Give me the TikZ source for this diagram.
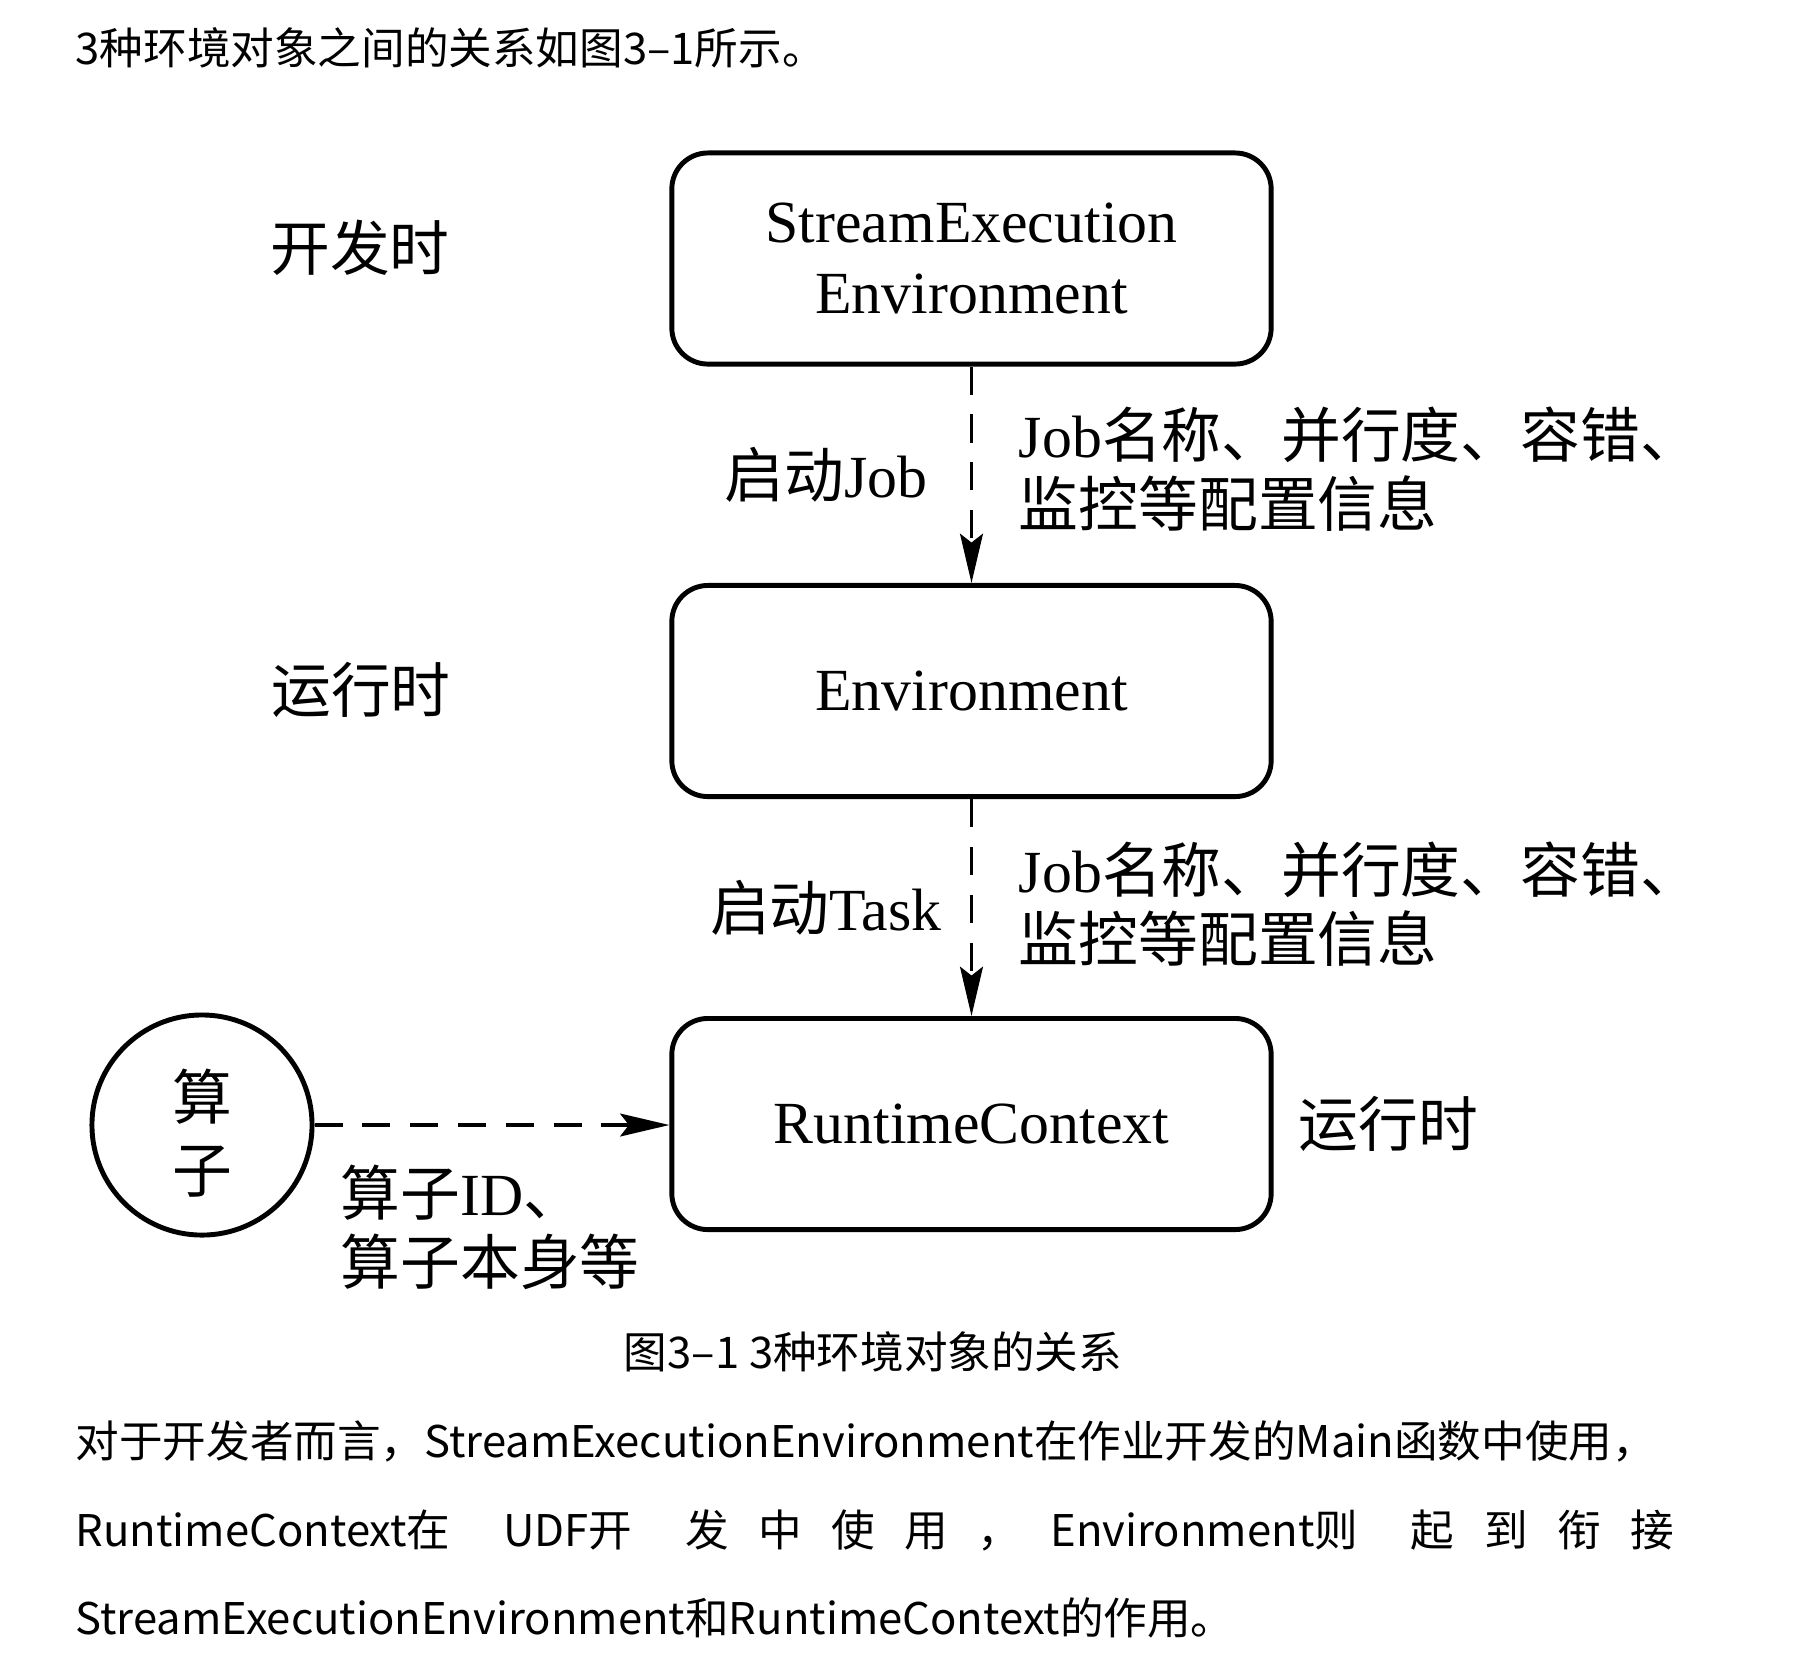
\documentclass[tikz,border=0pt]{standalone}
\usepackage{fontspec}
\setmainfont{Liberation Serif}
\newfontfamily\cjk{Noto Sans CJK SC}
\usetikzlibrary{positioning, arrows.meta, calc}

\begin{document}
\begin{tikzpicture}[x=0.01cm, y=-0.01cm,
    envbox/.style={draw, line width=1.4pt, rounded corners=0.36cm, minimum width=5.99cm, minimum height=2.11cm, align=center, font=\fontsize{17}{20.3}\selectfont},
    opcircle/.style={draw, circle, line width=1.4pt, minimum size=2.2cm, align=center, font=\fontsize{17}{20.5}\selectfont\cjk},
    flow/.style={line width=1pt, dash pattern=on 8pt off 5.6pt, -{Stealth[length=14pt, width=6.5pt, inset=2.5pt]}},
    lbl/.style={inner sep=0pt, font=\fontsize{17}{19.7}\selectfont, align=left},
    prose/.style={inner sep=0pt, anchor=west, font=\fontsize{12.4}{14.5}\selectfont\cjk}]
\newcommand{\boxmidx}{971.5}
\newcommand{\widefil}{\hspace{0pt plus 1.8fil}}

\useasboundingbox (0,0) rectangle (1808,1656);
\fill[white] (0,0) rectangle (1808,1656);

\node[prose] (intro) at (75,48) {3种环境对象之间的关系如图3–1所示。};

\node[envbox] (see) at (\boxmidx,258.5) {StreamExecution\\Environment};
\node[envbox] (env) at (\boxmidx,691) {Environment};
\node[envbox] (rtc) at (\boxmidx,1124) {RuntimeContext};
\node[opcircle] (op) at (202,1125) {\rule{0pt}{19pt}算\\子};

\node[lbl] (dev) at (360,248) {\cjk 开发时};
\node[lbl] (run) at (361,690) {\cjk 运行时};
\node[lbl, right=7pt of rtc] (runrtc) {\cjk 运行时};

\draw[flow] (see) -- node[lbl, left=12pt] (startjob) {{\cjk 启动}Job}
    node[lbl, right=13pt, yshift=1.5pt] (cfgjob) {Job{\cjk 名称、并行度、容错、}\\{\cjk 监控等配置信息}} (env);
\draw[flow] (env) -- node[lbl, left=8pt] (starttask) {{\cjk 启动}Task}
    node[lbl, right=13pt, yshift=1pt] (cfgtask) {Job{\cjk 名称、并行度、容错、}\\{\cjk 监控等配置信息}} (rtc);
\draw[flow] (op) -- (op -| rtc.west);

\node[lbl, anchor=west] (opinfo) at (340,1227) {{\cjk 算子}ID{\cjk 、}\\{\cjk 算子本身等}};

\node[prose, anchor=center] (caption) at (873,1352) {图3–1 3种环境对象的关系};

\node[prose] (para1) at (75,1441) {对于开发者而言，StreamExecutionEnvironment在作业开发的Main函数中使用，};
\node[prose] (para2) at (75,1530) {\makebox[15.97cm][s]{RuntimeContext在\widefil UDF开\widefil 发\hfil 中\hfil 使\hfil 用\hfil ，\hfil Environment则\widefil 起\hfil 到\hfil 衔\hfil 接}};
\node[prose] (para3) at (75,1618) {StreamExecutionEnvironment和RuntimeContext的作用。};

\end{tikzpicture}
\end{document}
